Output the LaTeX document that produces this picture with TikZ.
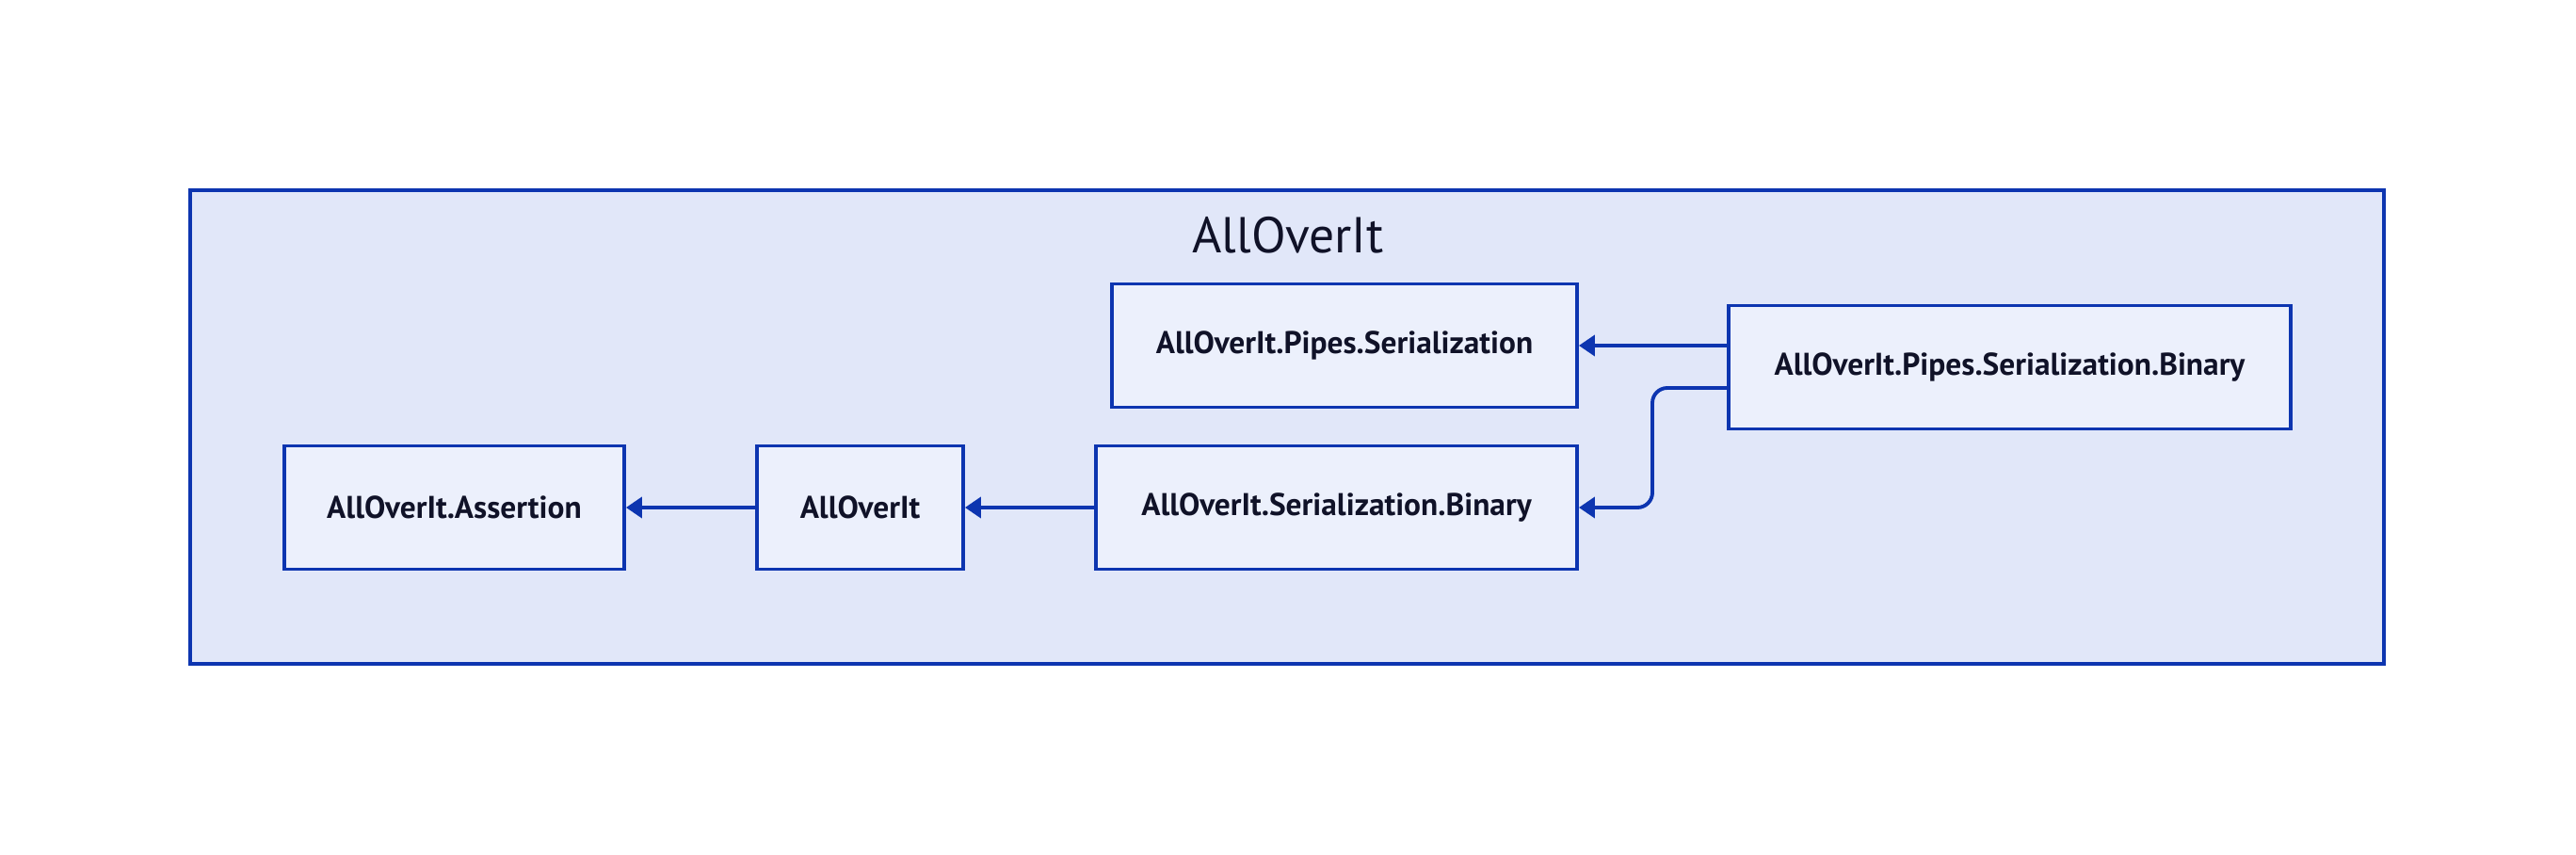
\documentclass[tikz,border=0pt]{standalone}
\usepackage{fontspec}
\setmainfont{PT Sans}
\usepackage{tikz}
\usetikzlibrary{arrows.meta, positioning, calc}
\definecolor{myblue}{RGB}{13,53,176}
\definecolor{mydark}{RGB}{16,18,40}
\definecolor{hdrblue}{RGB}{225,231,249}
\definecolor{boxblue}{RGB}{236,240,252}
\tikzset{
  grpbox/.style={rectangle, draw=myblue, fill=hdrblue, line width=2.2pt},
  pkg/.style={rectangle, draw=myblue, fill=boxblue, text=mydark,
    align=center, minimum height=2.62cm, inner sep=0pt,
    font=\fontsize{19}{22}\selectfont\bfseries, line width=2.2pt},
  dep/.style={-{Triangle[length=0.34cm, width=0.44cm]}, line width=2.2pt,
    color=myblue, rounded corners=9pt}
}
\begin{document}
\begin{tikzpicture}
  \useasboundingbox (0,0) rectangle (54.72,-18.16);

  % Group
  \draw[grpbox] (4.04,-4.04) rectangle (50.64,-14.10);
  \node[text=mydark, font=\fontsize{30.5}{34}\selectfont] (title) at (27.36,-5.0) {AllOverIt};

  % Packages
  \node[pkg, minimum width=9.88cm] (pipes) at (28.56,-7.34) {AllOverIt.Pipes.Serialization};
  \node[pkg, minimum width=11.94cm] (pipesbin) at (42.69,-7.80) {AllOverIt.Pipes.Serialization.Binary};
  \node[pkg, minimum width=7.22cm] (assert) at (9.65,-10.78) {AllOverIt.Assertion};
  \node[pkg, minimum width=4.38cm] (core) at (18.27,-10.78) {AllOverIt};
  \node[pkg, minimum width=10.22cm] (serbin) at (28.39,-10.78) {AllOverIt.Serialization.Binary};

  % Dependencies
  \draw[dep] (pipesbin.west |- pipes.east) -- (pipes.east);
  \draw[dep] ($(pipesbin.west)+(0,-0.44)$) -- (35.10,-8.24) |- (serbin.east);
  \draw[dep] (serbin.west) -- (core.east);
  \draw[dep] (core.west) -- (assert.east);
\end{tikzpicture}
\end{document}
